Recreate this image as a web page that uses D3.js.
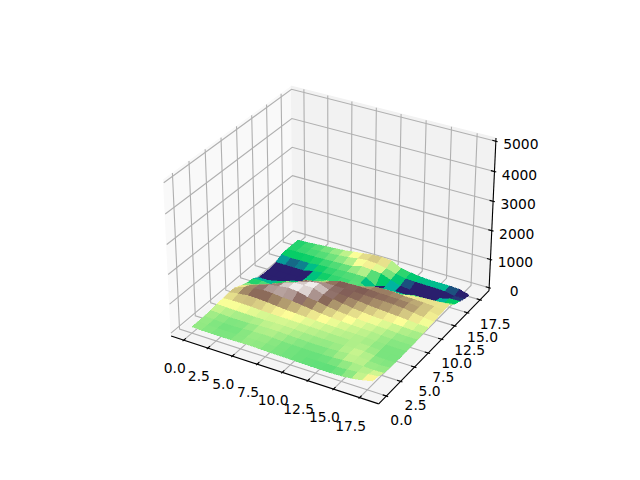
<!DOCTYPE html>
<html><head><meta charset="utf-8">
<script src="https://cdn.jsdelivr.net/npm/d3@7"></script>
<style>html,body{margin:0;background:#fff}svg{display:block}text{font-family:"DejaVu Sans";font-size:13.89px;fill:#000}</style>
</head><body><svg id="c" width="640" height="480"></svg>
<script>
const xTicks=[0,2.5,5,7.5,10,12.5,15,17.5];
const yTicks=[0,2.5,5,7.5,10,12.5,15,17.5];
const zTicks=[0,1000,2000,3000,4000,5000];
const xTickLabels=["0.0","2.5","5.0","7.5","10.0","12.5","15.0","17.5"];
const yTickLabels=["0.0","2.5","5.0","7.5","10.0","12.5","15.0","17.5"];
const zTickLabels=["0","1000","2000","3000","4000","5000"];
const gridX=[0,1,2,3,4,5,6,7,8,9,10,11,12,13,14,15,16,17,18];
const gridY=[0,1,2,3,4,5,6,7,8,9,10,11,12,13,14,15,16,17,18];
const elevation=[
[115,105,100,95,100,110,115,105,95,90,85,80,75,72,70,80,110,170,250],
[115,100,90,85,90,105,110,100,90,85,80,75,72,72,75,100,130,170,210],
[120,105,90,85,95,115,125,115,100,90,85,80,85,95,120,140,130,110,130],
[135,120,105,100,110,130,145,140,125,115,105,100,105,120,145,160,120,95,110],
[170,160,150,145,140,140,150,150,140,130,125,120,115,125,140,145,105,85,100],
[195,215,215,205,185,172,168,168,160,150,145,135,128,128,128,120,95,80,95],
[225,280,320,310,290,255,225,210,190,175,165,155,145,140,130,118,100,90,100],
[210,330,390,430,420,380,360,315,270,230,200,180,165,150,145,125,110,100,105],
[110,230,350,450,490,540,510,420,360,300,255,220,190,170,155,145,125,110,115],
[30,40,170,300,440,540,560,555,430,375,325,270,235,205,185,170,155,135,135],
[10,20,-10,60,230,400,500,545,420,390,370,340,300,270,250,225,200,170,160],
[-130,-130,-60,40,80,270,340,385,390,390,385,370,365,360,350,320,270,220,175],
[-150,-160,-150,-130,-40,30,140,270,370,380,385,380,365,355,350,330,290,250,200],
[-150,-160,-160,-150,-60,-30,20,40,60,110,200,300,320,320,285,275,260,235,215],
[-110,-110,-110,-110,-30,20,40,50,40,60,-130,-40,-10,60,130,170,190,210,225],
[0,-30,-20,-20,20,40,50,70,80,80,-130,-40,-110,-120,-50,-60,-60,0,50],
[20,30,40,40,50,70,80,100,200,170,140,10,-100,-130,-140,-150,-130,-30,-20],
[15,40,55,70,90,115,150,200,240,215,150,50,-20,-30,-40,-40,-60,-120,-120],
[15,30,55,80,105,130,175,220,265,280,255,80,25,-20,-40,-40,-40,-60,-160]];
const colorStops=[-200,-75,-60,0,190,380,560];
const colorRange=["#2a1f6e","#2a1f6e","#00b4a0","#00cc66","#ffff99","#805c54","#ffffff"];
const svg=d3.select("#c");
const xLim=[-0.9,18.9],yLim=[-0.9,18.9],zLim=[0,5000];
const F=1.8294640721620434/Math.hypot(4,4,3);
const A=[4*F,4*F,3*F];
const sx=d3.scaleLinear().domain(xLim).range([0,A[0]]);
const sy=d3.scaleLinear().domain(yLim).range([0,A[1]]);
const sz=d3.scaleLinear().domain(zLim).range([0,A[2]]);
const el=30*Math.PI/180,az=-60*Math.PI/180,D=10;
const R=A.map(v=>v/2);
const wv=[Math.cos(el)*Math.cos(az),Math.cos(el)*Math.sin(az),Math.sin(el)];
const eye=[R[0]+D*wv[0],R[1]+D*wv[1],R[2]+D*wv[2]];
const cross=(a,b)=>[a[1]*b[2]-a[2]*b[1],a[2]*b[0]-a[0]*b[2],a[0]*b[1]-a[1]*b[0]];
const dot=(a,b)=>a[0]*b[0]+a[1]*b[1]+a[2]*b[2];
let uv=cross([0,0,1],wv);const ul=Math.hypot(...uv);uv=uv.map(v=>v/ul);
const vv=cross(wv,uv);
const px2d=d3.scaleLinear().domain([-0.095,0.09]).range([143.2,512.8]);
const py2d=d3.scaleLinear().domain([-0.095,0.09]).range([427.2,57.6]);
function proj(x,y,z){const p=[sx(x)-eye[0],sy(y)-eye[1],sz(z)-eye[2]];
 const w=-dot(wv,p);return {x:px2d(dot(uv,p)/w),y:py2d(dot(vv,p)/w),d:w};}
const pad=l=>{const d=(l[1]-l[0])/48;return [l[0]-d,l[1]+d]};
const [x0,x1]=pad(xLim),[y0,y1]=pad(yLim),[z0,z1]=pad(zLim);
const line=d3.line().x(d=>d.x).y(d=>d.y);
function poly(pts,fill){svg.append("path").attr("d",line(pts.map(p=>proj(...p)))+"Z").attr("fill",fill).attr("stroke",fill);}
poly([[x0,y0,z0],[x0,y1,z0],[x0,y1,z1],[x0,y0,z1]],"#f9f9f9");
poly([[x0,y1,z0],[x1,y1,z0],[x1,y1,z1],[x0,y1,z1]],"#f2f2f2");
poly([[x0,y0,z0],[x1,y0,z0],[x1,y1,z0],[x0,y1,z0]],"#f5f5f5");
function seg(pts,stroke){svg.append("path").attr("d",line(pts.map(p=>proj(...p)))).attr("fill","none").attr("stroke",stroke).attr("stroke-width",1.11);}
const gc="#b0b0b0";
xTicks.forEach(t=>seg([[t,y0,z0],[t,y1,z0],[t,y1,z1]],gc));
yTicks.forEach(t=>seg([[x1,t,z0],[x0,t,z0],[x0,t,z1]],gc));
zTicks.forEach(t=>seg([[x0,y0,t],[x0,y1,t],[x1,y1,t]],gc));
seg([[x0,y0,z0],[x1,y0,z0]],"#000");seg([[x1,y0,z0],[x1,y1,z0]],"#000");seg([[x1,y1,z0],[x1,y1,z1]],"#000");
const dx=(x1-x0)/12,dy=(y1-y0)/12;
xTicks.forEach(t=>seg([[t,y0+.2*dy,z0],[t,y0-.1*dy,z0]],"#000"));
yTicks.forEach(t=>seg([[x1-.2*dx,t,z0],[x1+.1*dx,t,z0]],"#000"));
zTicks.forEach(t=>seg([[x1-.2*dx,y1,t],[x1+.1*dx,y1,t]],"#000"));
function label(s,p,ox,oy){svg.append("text").attr("x",p.x+ox).attr("y",p.y+oy).attr("text-anchor","middle").attr("dominant-baseline","central").text(s);}
xTicks.forEach((t,i)=>label(xTickLabels[i],proj(t,y0,z0),-9,28));
yTicks.forEach((t,i)=>label(yTickLabels[i],proj(x1,t,z0),15,24));
zTicks.forEach((t,i)=>label(zTickLabels[i],proj(x1,y1,t),25,3));
const colorOf=d3.scaleLinear().domain(colorStops).range(colorRange).clamp(true);
const cells=[];
for(let j=0;j<gridY.length-1;j++)for(let i=0;i<gridX.length-1;i++){
 const c=[[i,j],[i+1,j],[i+1,j+1],[i,j+1]].map(([a,b])=>[gridX[a],gridY[b],elevation[b][a]]);
 const m=d3.mean(c,d=>d[2]);const pr=c.map(d=>proj(...d));
 cells.push({pr,m,d:d3.mean(pr,p=>p.d)});}
cells.sort((a,b)=>b.d-a.d);
svg.append("g").attr("shape-rendering","crispEdges").selectAll("path").data(cells).join("path")
 .attr("d",d=>line(d.pr)+"Z").attr("fill",d=>colorOf(d.m)).attr("stroke",d=>colorOf(d.m)).attr("stroke-width",.4);
</script></body></html>
